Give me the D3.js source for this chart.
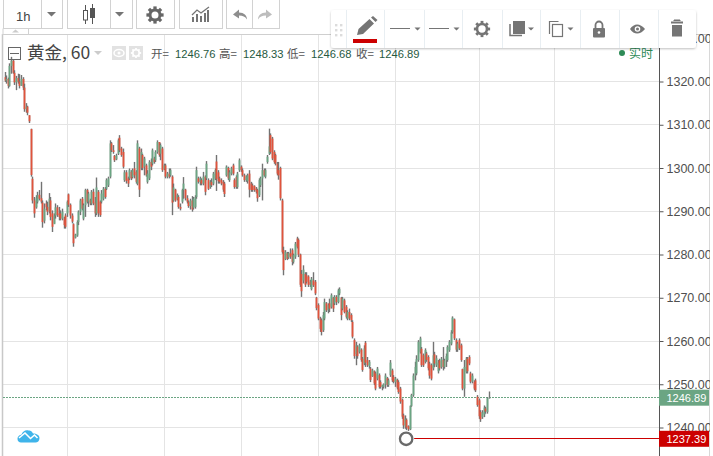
<!DOCTYPE html>
<html>
<head>
<meta charset="utf-8">
<script src="https://cdn.jsdelivr.net/npm/d3@7"></script>
<style>
  html, body { margin: 0; padding: 0; background: #fff; }
  svg { display: block; font-family: "Liberation Sans", Arial, sans-serif; }
</style>
</head>
<body>
<svg width="713" height="456"></svg>
<script>
var opens = [
1321.0,1320.2,1320.6,1319.0,1323.6,1324.8,1322.0,1319.8,1320.8,1320.0,1319.0,1320.6,1318.6,1313.6,1314.2,1312.2,
1309.0,1297.5,1292.5,1290.9,1292.2,1293.8,1293.0,1292.0,1287.8,1291.8,1291.0,1290.2,1292.5,1289.5,1287.0,1289.0,1290.9,1289.5,1289.5,1288.3,1288.3,1289.0,1289.5,1293.9,1291.5,1289.0,1287.0,1283.9,1284.4,1287.5,1289.9,1292.9,1288.3,1291.4,1294.9,1292.2,1292.5,1291.8,1294.5,1292.0,1289.5,1294.5,1292.2,1292.2,1292.9,1295.2,1295.2,1296.0,1298.0,1305.7,1304.1,1302.8,1302.0,1303.3,1307.0,1304.5,1303.7,1297.2,1299.0,1297.6,1297.6,1299.1,1297.9,1299.9,1299.1,1296.4,1304.5,1300.0,1303.0,1300.3,1300.6,1296.8,1297.6,1301.4,1301.0,1302.2,1301.8,1303.7,1306.0,1303.3,1304.5,1299.9,1300.6,1298.0,1298.7,1298.3,1298.0,1292.5,1295.0,1292.9,1293.3,
1291.0,1292.2,1294.9,1295.0,1293.0,1292.2,1291.2,1292.5,1290.8,1291.0,1293.3,1297.6,1296.8,1297.2,1296.4,1298.0,1297.6,1297.2,1295.6,1296.8,1296.4,1297.6,1301.5,1299.0,1297.6,1297.2,1296.8,1296.4,1298.3,1300.0,1297.2,1298.7,1300.6,1297.2,1297.9,1295.6,1299.5,1300.3,1299.5,1298.3,1297.2,1297.0,1298.7,1296.4,1296.0,1295.8,1295.2,1294.9,1293.7,1296.0,1297.6,1299.5,1298.0,1301.4,1303.3,1307.6,1306.8,1303.7,1303.0,1301.0,1299.5,1300.0,1292.5,1281.0,1279.0,1280.3,1279.3,1280.3,1281.0,1278.3,1279.5,1283.7,1283.4,1280.0,1275.5,1274.0,1275.5,1275.2,1274.9,1273.7,1272.0,1274.0,1273.7,
1270.0,1268.3,1265.2,1264.8,1262.5,1265.2,1268.7,1267.1,1268.7,1267.9,1270.0,1268.7,1270.2,1269.0,1271.0,1270.0,1267.5,1269.4,1267.9,1265.2,1266.7,1266.0,1264.4,1260.2,1257.0,1258.7,1257.5,1258.0,1255.9,1254.8,1259.6,1255.6,1254.2,1253.6,1251.9,1253.0,1252.5,1251.3,1252.1,1250.5,1249.4,1249.4,1250.0,1251.4,1249.8,1252.1,1253.2,1251.7,1250.5,1251.0,
1250.5,1249.0,1246.4,1242.8,1240.2,1241.8,1240.3,1239.6,1245.0,1247.5,1252.0,1252.5,
1255.6,1257.5,1258.2,1256.7,1255.2,1257.1,1256.3,1254.8,1254.4,1253.7,1256.9,1254.4,1253.0,1255.5,1254.0,1255.6,1254.0,1255.5,1255.6,1257.9,1259.4,1262.1,1265.0,1260.2,1258.0,1260.2,1259.0,1253.5,1249.0,1252.9,1255.9,1256.3,1252.5,1250.6,1250.5,1250.9,1247.1,1246.3,1243.6,1242.4,1243.0,1244.4,1243.6,1246.76
];
var highs = [
1322.2,1321.4,1320.9,1324.2,1325.7,1325.0,1322.6,1321.3,1321.8,1321.7,1321.5,1321.0,1319.5,1315.0,1314.4,1312.2,
1309.1,1298.0,1293.3,1293.7,1294.5,1294.9,1296.8,1292.5,1291.8,1292.5,1292.2,1294.2,1293.3,1290.2,1289.5,1291.8,1291.4,1291.0,1290.2,1290.6,1288.7,1289.5,1292.5,1294.1,1291.8,1289.5,1287.2,1284.8,1287.9,1290.2,1292.9,1293.3,1291.8,1295.2,1295.2,1294.5,1292.9,1294.9,1295.2,1293.3,1297.8,1294.9,1292.5,1294.9,1295.6,1295.6,1297.6,1298.0,1306.4,1306.0,1305.3,1303.0,1303.3,1306.8,1307.6,1304.9,1304.5,1299.5,1299.5,1298.0,1299.9,1299.5,1299.9,1301.4,1299.5,1306.4,1304.9,1304.5,1303.3,1302.6,1301.0,1299.5,1301.8,1302.2,1304.5,1302.6,1304.1,1306.4,1306.0,1305.7,1304.9,1301.0,1301.0,1299.1,1299.9,1299.9,1298.3,1296.4,1295.2,1294.1,1293.7,
1291.8,1295.2,1297.9,1295.2,1293.7,1292.5,1292.9,1293.5,1293.3,1293.7,1300.3,1298.0,1298.0,1297.6,1299.1,1298.3,1301.6,1297.6,1297.2,1297.6,1299.1,1299.9,1303.0,1299.5,1298.0,1297.6,1297.2,1296.8,1300.6,1300.3,1299.5,1300.3,1301.0,1297.6,1298.3,1299.1,1302.2,1300.6,1299.9,1298.7,1298.3,1298.7,1299.5,1296.8,1296.4,1296.0,1295.6,1295.2,1297.6,1298.0,1301.0,1299.9,1299.9,1303.0,1309.1,1308.0,1307.2,1304.1,1303.3,1301.4,1301.4,1300.3,1292.9,1281.8,1281.0,1280.6,1280.6,1281.4,1281.4,1280.2,1282.9,1284.1,1283.7,1280.2,1276.4,1277.5,1275.9,1275.9,1275.2,1274.1,1274.8,1275.9,1274.1,
1270.2,1268.7,1265.6,1265.2,1266.7,1269.8,1269.0,1268.7,1269.8,1271.0,1270.2,1270.6,1270.6,1272.1,1272.4,1270.2,1270.2,1269.8,1268.3,1267.1,1267.5,1266.4,1264.8,1260.6,1259.8,1259.0,1259.4,1258.3,1256.3,1259.0,1260.0,1256.3,1255.6,1254.0,1253.6,1253.2,1252.9,1254.0,1252.5,1250.9,1249.8,1250.2,1252.5,1251.7,1251.3,1255.6,1253.6,1252.1,1251.7,1251.3,
1250.9,1249.4,1246.7,1243.2,1242.8,1242.1,1240.5,1245.1,1247.8,1252.5,1255.2,1256.7,
1260.2,1261.0,1258.6,1257.1,1258.3,1257.5,1256.7,1255.2,1254.8,1259.8,1257.5,1256.7,1255.6,1255.9,1256.3,1258.6,1255.9,1257.1,1259.0,1260.2,1262.5,1265.7,1265.2,1260.6,1259.8,1260.6,1259.4,1253.6,1255.6,1256.3,1256.3,1256.7,1252.9,1252.5,1250.9,1251.3,1247.5,1246.7,1244.0,1244.0,1245.1,1244.8,1247.0,1248.33
];
var lows = [
1319.9,1319.5,1318.4,1318.8,1321.8,1321.8,1319.2,1318.0,1319.5,1318.4,1319.0,1318.0,1313.0,1312.8,1312.2,1310.4,
1298.0,1291.8,1288.5,1290.6,1291.8,1292.5,1291.8,1286.2,1287.2,1290.2,1289.1,1289.5,1287.9,1285.2,1287.2,1288.3,1288.7,1287.9,1287.9,1287.9,1286.0,1286.0,1288.7,1291.0,1288.3,1287.2,1281.8,1283.7,1284.1,1286.8,1289.1,1290.2,1287.9,1288.7,1291.8,1291.0,1291.4,1291.4,1291.4,1288.7,1289.1,1288.7,1288.7,1291.8,1292.5,1292.9,1294.9,1295.6,1297.6,1303.7,1303.3,1301.4,1301.8,1303.0,1303.7,1302.6,1299.9,1296.8,1296.4,1295.6,1297.2,1297.2,1297.6,1297.6,1296.4,1296.0,1293.3,1299.5,1299.5,1298.3,1298.0,1296.4,1297.2,1299.5,1300.6,1301.0,1301.4,1303.3,1302.6,1301.8,1299.1,1299.5,1297.6,1297.6,1297.6,1298.0,1289.1,1292.2,1292.2,1292.5,1290.6,
1290.2,1291.8,1292.9,1292.5,1291.8,1290.8,1290.4,1289.9,1290.4,1290.6,1292.9,1296.4,1296.0,1296.0,1296.0,1293.7,1297.2,1294.9,1295.2,1295.6,1296.0,1297.2,1294.7,1296.4,1296.4,1296.0,1294.5,1293.3,1298.0,1297.2,1296.8,1298.3,1298.3,1295.2,1295.2,1295.2,1299.1,1299.1,1298.0,1296.8,1296.8,1296.4,1293.2,1294.5,1294.5,1294.5,1294.1,1292.2,1293.3,1295.6,1292.5,1298.0,1297.6,1301.0,1303.0,1303.3,1301.8,1301.0,1300.6,1298.3,1297.3,1292.5,1280.2,1275.2,1278.7,1278.7,1279.0,1279.0,1277.5,1277.9,1279.0,1281.4,1279.4,1272.5,1270.2,1273.3,1272.5,1273.3,1272.5,1272.5,1271.7,1272.5,1270.6,
1267.1,1264.8,1262.1,1261.3,1262.1,1264.8,1266.7,1266.4,1266.7,1267.5,1266.7,1268.3,1268.3,1268.7,1270.6,1264.8,1267.1,1266.4,1265.2,1264.8,1264.8,1264.4,1260.6,1255.9,1254.4,1255.9,1257.1,1255.2,1252.9,1254.4,1254.0,1254.0,1253.6,1250.5,1251.7,1249.8,1248.6,1250.9,1249.0,1249.0,1248.6,1249.0,1249.0,1249.4,1249.4,1251.7,1250.5,1250.2,1249.4,1248.8,
1247.8,1245.5,1242.0,1239.7,1239.7,1239.4,1239.2,1239.4,1244.8,1247.1,1250.9,1252.1,
1255.2,1257.1,1254.0,1254.0,1254.8,1255.2,1253.2,1251.3,1250.9,1253.2,1254.0,1254.0,1252.5,1253.2,1253.6,1253.2,1253.6,1254.0,1255.2,1257.5,1259.0,1261.7,1260.2,1257.5,1257.5,1257.9,1255.2,1248.6,1247.1,1252.5,1252.5,1254.4,1250.2,1250.2,1248.6,1248.2,1244.8,1242.0,1241.3,1242.0,1242.4,1243.2,1243.2,1246.68
];
var closes = [
1320.2,1320.6,1319.0,1323.6,1324.8,1322.0,1319.8,1320.8,1320.0,1319.0,1320.6,1318.6,1313.6,1314.2,1312.8,1310.8,
1298.4,1292.5,1289.5,1293.0,1293.7,1292.9,1292.2,1287.5,1290.6,1290.9,1289.9,1292.9,1288.7,1286.4,1289.0,1290.9,1289.1,1288.7,1288.3,1289.9,1286.8,1286.4,1292.2,1291.5,1289.0,1287.6,1282.6,1284.6,1287.5,1289.9,1292.5,1290.6,1291.4,1294.9,1292.2,1294.1,1291.8,1294.5,1291.8,1289.5,1295.5,1289.5,1289.1,1294.1,1295.2,1293.3,1297.2,1297.6,1305.7,1304.1,1303.7,1301.8,1302.9,1306.4,1304.1,1303.0,1300.3,1299.0,1297.0,1296.4,1299.5,1297.6,1299.5,1298.3,1296.8,1305.7,1295.0,1303.7,1300.0,1302.2,1298.3,1298.7,1301.4,1300.3,1304.1,1301.4,1303.7,1306.0,1303.0,1305.3,1299.5,1300.6,1298.0,1298.7,1298.0,1299.5,1292.0,1295.5,1292.5,1293.7,1291.0,
1290.6,1294.9,1296.4,1293.0,1292.2,1291.2,1292.5,1290.4,1292.9,1293.3,1299.5,1296.8,1297.6,1296.4,1298.0,1294.5,1301.0,1295.2,1296.8,1296.0,1298.7,1299.5,1297.5,1297.0,1296.8,1296.4,1295.0,1294.0,1300.3,1297.6,1299.0,1299.9,1298.7,1295.6,1295.6,1298.7,1301.8,1299.5,1298.3,1297.2,1298.0,1298.3,1295.0,1294.9,1294.9,1294.9,1294.5,1293.0,1297.2,1297.6,1299.5,1298.3,1299.5,1302.6,1305.0,1303.7,1302.2,1301.4,1301.0,1298.7,1298.3,1293.0,1280.6,1276.4,1280.6,1279.0,1280.3,1279.5,1278.3,1279.9,1282.5,1281.8,1280.0,1273.0,1271.5,1276.5,1273.0,1273.7,1273.0,1273.0,1274.4,1272.9,1271.0,
1267.6,1265.2,1262.8,1262.1,1266.0,1269.0,1267.1,1268.3,1267.5,1270.6,1267.5,1270.2,1269.0,1271.7,1272.0,1266.0,1269.8,1266.7,1265.6,1266.7,1265.2,1264.8,1261.0,1256.5,1259.0,1256.5,1259.0,1255.6,1253.3,1258.3,1255.0,1254.4,1255.2,1251.0,1253.2,1250.2,1249.0,1253.6,1249.4,1249.4,1249.8,1250.0,1252.0,1249.8,1250.9,1255.0,1250.9,1250.6,1251.3,1249.2,
1248.2,1246.0,1242.5,1240.5,1242.0,1240.0,1239.6,1245.0,1247.5,1252.0,1254.0,1255.8,
1259.8,1260.6,1254.4,1254.4,1257.9,1255.6,1253.7,1252.0,1251.3,1256.7,1254.8,1256.0,1255.0,1253.7,1255.9,1254.0,1255.5,1256.5,1258.6,1259.8,1262.0,1265.4,1260.6,1258.0,1259.4,1258.3,1255.6,1249.0,1254.0,1255.9,1253.0,1254.8,1250.6,1252.0,1249.0,1248.6,1245.2,1242.6,1241.9,1243.5,1244.6,1243.7,1246.8,1246.89
];
var priceTicks = [1240, 1250, 1260, 1270, 1280, 1290, 1300, 1310, 1320, 1330];
var timeGridSlots = [38, 97, 144, 191, 238, 289, 335];
var lastClose = 1246.89;
var markedPrice = 1237.39;
var markedSlot = 244.5;
var headerLabels = ["开=", "高=", "低=", "收="];
var headerValues = ["1246.76", "1248.33", "1246.68", "1246.89"];

var upColor = "#6ba583", downColor = "#e0533c", wickColor = "#737373", gridColor = "#e4e4e4";
var iconColor = "#757575";
var svg = d3.select("svg");

var y = d3.scaleLinear().domain([1240, 1320]).range([427.5, 81.5]);
var x = d3.scaleLinear().domain([0, opens.length - 1]).range([5, 489]);
var snap = function(v) { return Math.floor(v) + 0.5; };

// grid
var grid = svg.append("g");
grid.selectAll(".h").data(priceTicks.slice(0, 9)).enter().append("line")
    .attr("x1", 2).attr("x2", 660)
    .attr("y1", function(d) { return snap(y(d)); }).attr("y2", function(d) { return snap(y(d)); })
    .attr("stroke", gridColor);
grid.selectAll(".v").data(timeGridSlots).enter().append("line")
    .attr("y1", 34).attr("y2", 456)
    .attr("x1", function(d) { return snap(x(d)); }).attr("x2", function(d) { return snap(x(d)); })
    .attr("stroke", gridColor);

// frame
svg.append("line").attr("x1", 2.5).attr("x2", 2.5).attr("y1", 34).attr("y2", 456).attr("stroke", "#c8c8c8").attr("stroke-width", 1.5);
svg.append("line").attr("x1", 2).attr("x2", 710).attr("y1", 34.5).attr("y2", 34.5).attr("stroke", "#cfcfcf");
svg.append("line").attr("x1", 709.5).attr("x2", 709.5).attr("y1", 34).attr("y2", 456).attr("stroke", "#d8d8d8");

// last price line under the candles
svg.append("line").attr("x1", 3).attr("x2", 660)
    .attr("y1", snap(y(lastClose))).attr("y2", snap(y(lastClose)))
    .attr("stroke", upColor).attr("stroke-dasharray", "2,1");

// candles
var candles = svg.append("g").selectAll("g").data(d3.range(opens.length)).enter().append("g");
candles.append("line")
    .attr("x1", function(i) { return snap(x(i)); }).attr("x2", function(i) { return snap(x(i)); })
    .attr("y1", function(i) { return y(highs[i]); }).attr("y2", function(i) { return y(lows[i]); })
    .attr("stroke", wickColor).attr("stroke-width", 1.4);
candles.append("rect")
    .attr("x", function(i) { return snap(x(i)) - 0.9; })
    .attr("width", 1.8)
    .attr("y", function(i) { return y(Math.max(opens[i], closes[i])); })
    .attr("height", function(i) { return Math.max(0.5, Math.abs(y(opens[i]) - y(closes[i]))); })
    .attr("fill", function(i) { return closes[i] >= opens[i] ? upColor : downColor; });

// price axis
var axis = svg.append("g").attr("transform", "translate(659.5,0)")
    .call(d3.axisRight(y).tickValues(priceTicks).tickSize(4).tickPadding(3).tickFormat(d3.format(".2f")));
axis.select(".domain").remove();
axis.append("line").attr("x1", 0).attr("x2", 0).attr("y1", 34).attr("y2", 456).attr("stroke", "#555");
axis.selectAll(".tick line").attr("stroke", "#555");
axis.selectAll("text").attr("fill", "#4f4f4f").attr("font-size", 12.5).attr("font-family", "Liberation Sans");
svg.append("rect").attr("x", 710).attr("y", 0).attr("width", 3).attr("height", 456).attr("fill", "#fff");

// price tags
function priceTag(price, fill) {
  var g = svg.append("g").attr("transform", "translate(659," + y(price) + ")");
  g.append("rect").attr("x", 0).attr("y", -8).attr("width", 50).attr("height", 16).attr("fill", fill);
  g.append("text").attr("x", 7.5).attr("y", 4).attr("fill", "#fff").attr("font-size", 11).text(price.toFixed(2));
}
priceTag(lastClose, upColor);
priceTag(markedPrice, "#cc0000");

// horizontal ray with its anchor
svg.append("line").attr("x1", x(markedSlot) + 8).attr("x2", 660)
    .attr("y1", snap(y(markedPrice))).attr("y2", snap(y(markedPrice)))
    .attr("stroke", "#cc0000").attr("stroke-width", 1.2);
svg.append("circle").attr("cx", x(markedSlot)).attr("cy", y(markedPrice)).attr("r", 6.2)
    .attr("fill", "#fff").attr("stroke", "#6a6a6a").attr("stroke-width", 2.3);

// header line
svg.append("rect").attr("x", 8.5).attr("y", 47.5).attr("width", 12).attr("height", 12).attr("fill", "none").attr("stroke", "#666");
svg.append("line").attr("x1", 10).attr("x2", 19).attr("y1", 53.5).attr("y2", 53.5).attr("stroke", "#666");
svg.append("text").attr("x", 27).attr("y", 59).attr("font-size", 17.5).attr("fill", "#444")
    .attr("font-family", "'Noto Sans CJK SC'").text("黄金, 60");
svg.append("path").attr("d", "M94,51h8l-4,4z").attr("fill", "#ccc");
svg.append("rect").attr("x", 112).attr("y", 46).attr("width", 14).attr("height", 14).attr("fill", "#e2e2e2");
svg.append("rect").attr("x", 129).attr("y", 46).attr("width", 14).attr("height", 14).attr("fill", "#e2e2e2");
svg.append("ellipse").attr("cx", 119).attr("cy", 53).attr("rx", 5).attr("ry", 3.5).attr("fill", "none").attr("stroke", "#fff").attr("stroke-width", 1.5);
svg.append("circle").attr("cx", 119).attr("cy", 53).attr("r", 1.5).attr("fill", "#fff");
gear(136, 53, 3.2, "#fff", 1.6);

var labelX = [151, 219, 287, 356], valueX = [175, 243, 311, 379];
headerLabels.forEach(function(t, i) {
  svg.append("text").attr("x", labelX[i]).attr("y", 58).attr("font-size", 11.5).attr("fill", "#555")
      .attr("font-family", "'Noto Sans CJK SC'").text(t);
  svg.append("text").attr("x", valueX[i]).attr("y", 58).attr("font-size", 11.2).attr("fill", "#27593f").text(headerValues[i]);
});
svg.append("circle").attr("cx", 622).attr("cy", 53).attr("r", 3).attr("fill", "#2e8b57");
svg.append("text").attr("x", 629).attr("y", 58).attr("font-size", 12).attr("fill", "#2e8b57")
    .attr("font-family", "'Noto Sans CJK SC'").text("实时");

function gear(cx, cy, r, color, w) {
  var g = svg.append("g");
  g.append("circle").attr("cx", cx).attr("cy", cy).attr("r", r).attr("fill", "none").attr("stroke", color).attr("stroke-width", w);
  var teeth = d3.range(8).map(function(i) { return i * Math.PI / 4; });
  g.selectAll("line").data(teeth).enter().append("line")
      .attr("x1", function(a) { return cx + r * Math.cos(a); }).attr("y1", function(a) { return cy + r * Math.sin(a); })
      .attr("x2", function(a) { return cx + (r + w * 1.2) * Math.cos(a); }).attr("y2", function(a) { return cy + (r + w * 1.2) * Math.sin(a); })
      .attr("stroke", color).attr("stroke-width", w * 1.1);
}

// top toolbar
var boxes = [[3, 41], [41, 62], [67, 110], [110, 132], [136, 174], [179, 222], [226, 252], [252, 279]];
boxes.forEach(function(b) {
  svg.append("rect").attr("x", b[0] + 0.5).attr("y", -2).attr("width", b[1] - b[0]).attr("height", 30.5)
      .attr("fill", "#fff").attr("stroke", "#d2d2d2");
});
svg.append("path").attr("d", "M3,28.5V34.5M28.5,28.5V34.5").attr("stroke", "#d2d2d2").attr("fill", "none");
svg.append("path").attr("d", "M12,32.5l3.5,-3l3.5,3z").attr("fill", "#ccc");
svg.append("text").attr("x", 16).attr("y", 21).attr("font-size", 13).attr("fill", "#444").text("1h");
svg.append("path").attr("d", "M47,12h9l-4.5,4.5z M115,12h9l-4.5,4.5z").attr("fill", iconColor);
svg.append("path").attr("d", "M85.5,5v5M85.5,20v4").attr("stroke", "#555").attr("fill", "none");
svg.append("rect").attr("x", 83.5).attr("y", 10.5).attr("width", 4).attr("height", 9.5).attr("fill", "#fff").attr("stroke", "#555");
svg.append("path").attr("d", "M92.5,4v20").attr("stroke", "#555").attr("fill", "none");
svg.append("rect").attr("x", 90).attr("y", 8).attr("width", 5).attr("height", 10).attr("fill", "#555");
gear(155, 15, 5, "#666", 3);
svg.append("path").attr("d", "M192,22v-5h2v5zM196,22v-8h2v8zM200,22v-6h2v6zM204,22v-9h2v9zM207,22v-12h2v12z").attr("fill", iconColor);
svg.append("path").attr("d", "M192,15l5,-5l4,3l8,-6").attr("fill", "none").attr("stroke", iconColor).attr("stroke-width", 1.3);
svg.append("path").attr("d", "M233,14.5l6,-5v3c5,0 8,3 8,7c-2,-3 -4,-4 -8,-4v3z").attr("fill", "#8e8e8e");
svg.append("path").attr("d", "M272,14.5l-6,-5v3c-5,0 -8,3 -8,7c2,-3 4,-4 8,-4v3z").attr("fill", "#bdbdbd");

// floating drawing panel
var defs = svg.append("defs");
var shadow = defs.append("filter").attr("id", "panelShadow").attr("x", "-5%").attr("y", "-20%").attr("width", "110%").attr("height", "150%");
shadow.append("feDropShadow").attr("dx", 0).attr("dy", 1).attr("stdDeviation", 1.2).attr("flood-color", "#000").attr("flood-opacity", 0.25);
svg.append("rect").attr("x", 331).attr("y", 10).attr("width", 365).attr("height", 38).attr("rx", 3)
    .attr("fill", "#fff").attr("filter", "url(#panelShadow)");
[346, 384, 424, 462, 502, 540, 580, 619, 658].forEach(function(v) {
  svg.append("line").attr("x1", v + 0.5).attr("x2", v + 0.5).attr("y1", 10).attr("y2", 48).attr("stroke", "#e8eef2");
});
d3.range(3).forEach(function(r) {
  [336, 341].forEach(function(cx) {
    svg.append("rect").attr("x", cx - 1).attr("y", 24 + r * 5).attr("width", 2.4).attr("height", 2.4).attr("fill", "#dcdcdc");
  });
});
svg.append("path").attr("d", "M357,35l1.5,-6l11,-10l4.5,4.5l-11,10.5z M371,17.5l2,-1.5l4.5,4l-2,2z").attr("fill", iconColor);
svg.append("rect").attr("x", 353).attr("y", 39).attr("width", 24).attr("height", 4).attr("fill", "#cc0000");
svg.append("path").attr("d", "M390,28.5h20M429,28.5h20").attr("stroke", iconColor).attr("fill", "none");
svg.append("path").attr("d", "M414.5,27.5h6l-3,3z M453.5,27.5h6l-3,3z M528,27.5h6l-3,3z M567.5,27.5h6l-3,3z").attr("fill", iconColor);
gear(482, 29, 5, iconColor, 2.6);
svg.append("rect").attr("x", 513).attr("y", 21).attr("width", 12).attr("height", 13).attr("fill", iconColor);
svg.append("path").attr("d", "M510,24v11.5h12").attr("fill", "none").attr("stroke", iconColor).attr("stroke-width", 1.5);
svg.append("rect").attr("x", 552.5).attr("y", 24.5).attr("width", 10).attr("height", 12).attr("fill", "#fff").attr("stroke", iconColor).attr("stroke-width", 1.2);
svg.append("path").attr("d", "M549.5,34v-12.5h9").attr("fill", "none").attr("stroke", iconColor).attr("stroke-width", 1.2);
svg.append("rect").attr("x", 593).attr("y", 28).attr("width", 12).attr("height", 9.5).attr("rx", 1).attr("fill", iconColor);
svg.append("path").attr("d", "M595.5,28v-3a3.5,3.5 0 0 1 7,0v3").attr("fill", "none").attr("stroke", iconColor).attr("stroke-width", 1.8);
svg.append("circle").attr("cx", 599).attr("cy", 32.5).attr("r", 1.3).attr("fill", "#fff");
svg.append("path").attr("d", "M630,29c4,-6 10,-6 15,0c-5,6 -11,6 -15,0z").attr("fill", iconColor);
svg.append("circle").attr("cx", 637.5).attr("cy", 29).attr("r", 2.8).attr("fill", "#fff");
svg.append("circle").attr("cx", 637.5).attr("cy", 29).attr("r", 1.5).attr("fill", iconColor);
svg.append("path").attr("d", "M671,21.5h12v2h-12z M672,25h10v11.5h-10z").attr("fill", iconColor);
svg.append("path").attr("d", "M674,21v-1h6v1").attr("fill", iconColor).attr("stroke", iconColor);

// logo cloud
svg.append("path").attr("d", "M17.5,439c0,-3 2.5,-4 4,-4.5c1,-3 4,-5 7,-4c1.5,-0.5 3.5,0.5 4.5,3c3.5,0 6.5,1.5 6.5,4.5c0,3 -2,4.5 -4,4.5h-14.5c-2,0 -3.5,-1.5 -3.5,-3.5z").attr("fill", "#3fb4ea");
svg.append("path").attr("d", "M19,438l6,-5l5.5,5.5l4,-3.5l3,3").attr("fill", "none").attr("stroke", "#fff").attr("stroke-width", 1.6);
</script>
</body>
</html>
